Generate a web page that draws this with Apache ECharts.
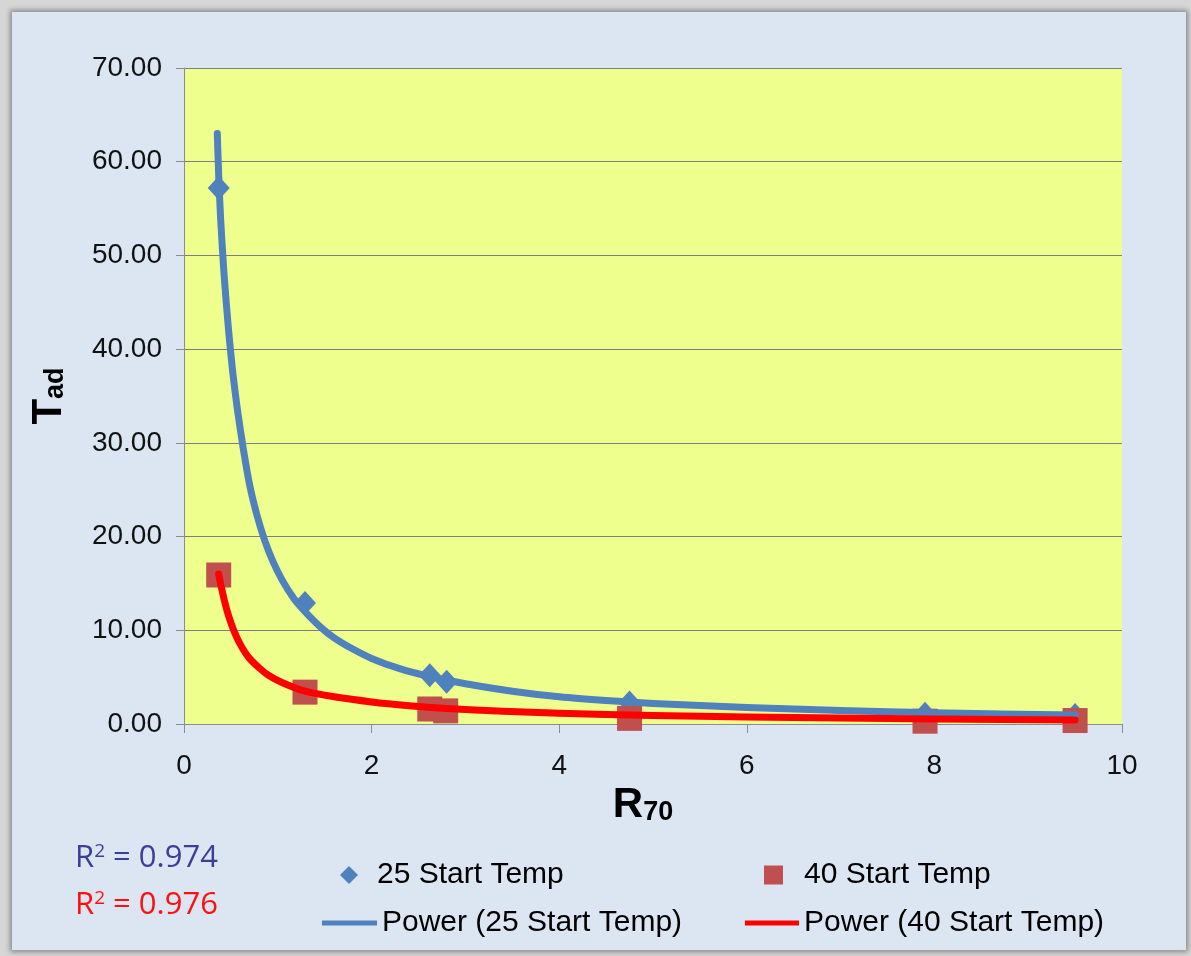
<!DOCTYPE html>
<html>
<head>
<meta charset="utf-8">
<script src="https://cdn.jsdelivr.net/npm/echarts@6/dist/echarts.min.js"></script>
<style>
  html, body { margin: 0; padding: 0; background: #d6d6d6; }
  #frame {
    position: absolute; left: 12px; top: 12px; width: 1174px; height: 938px;
    background: #dce6f2; box-shadow: 0 0 5px 2px #8a8a8a;
  }
  #chart { position: absolute; left: 0; top: 0; width: 1191px; height: 956px; }
</style>
</head>
<body>
<div id="frame"></div>
<div id="chart"></div>
<script>
// 数据
const x25 = [0.37, 1.29, 2.62, 2.80, 4.75, 7.90, 9.50];
const y25 = [57.2, 12.9, 5.2, 4.5, 2.3, 1.1, 0.95];
const x40 = [0.37, 1.29, 2.62, 2.79, 4.75, 7.90, 9.50];
const y40 = [15.9, 3.4, 1.6, 1.4, 0.6, 0.3, 0.37];

// 趋势线（幂函数拟合，按图读点）
const fit25x = [0.355, 0.37, 0.39, 0.42, 0.45, 0.48, 0.52, 0.57, 0.63, 0.7, 0.78, 0.86, 0.95, 1.05, 1.17, 1.29, 1.45, 1.6, 1.8, 2, 2.3, 2.6, 3, 3.5, 4, 4.5, 5, 6, 7, 8, 9.5];
const fit25y = [63, 58.5, 54, 49, 45, 41.5, 37.5, 33.5, 29.5, 25.5, 22.2, 19.6, 17.3, 15.3, 13.4, 12.0, 10.4, 9.2, 8.0, 7.0, 5.9, 5.1, 4.3, 3.5, 2.9, 2.5, 2.2, 1.75, 1.45, 1.2, 0.95];
const fit40x = [0.37, 0.4, 0.44, 0.48, 0.53, 0.6, 0.69, 0.8, 0.9, 1.05, 1.29, 1.6, 2, 2.4, 2.8, 3.4, 4, 5, 6, 7, 8, 9.5];
const fit40y = [16, 14.5, 12.8, 11.4, 10, 8.5, 7.1, 6.0, 5.2, 4.4, 3.5, 2.9, 2.35, 1.95, 1.65, 1.35, 1.15, 0.9, 0.75, 0.63, 0.53, 0.43];

const names = ["25 Start Temp", "40 Start Temp", "Power (25 Start Temp)", "Power (40 Start Temp)"];
const r2Text = ["0.974", "0.976"];

const zip = (a, b) => a.map((v, i) => [v, b[i]]);

const chart = echarts.init(document.getElementById("chart"));

const legendText = { fontFamily: "Arial, Liberation Sans", fontSize: 30, color: "#000" };

const option = {
    animation: false,
    backgroundColor: "transparent",
    grid: { left: 184, right: 69, top: 68, bottom: 232, show: true, backgroundColor: "#eeff8e", borderWidth: 0 },
    xAxis: {
        type: "value", min: 0, max: 10, interval: 2,
        axisLine: { show: true, lineStyle: { color: "#8c8c8c", width: 1 } },
        axisTick: { show: true, length: 9, lineStyle: { color: "#8c8c8c" } },
        splitLine: { show: false },
        axisLabel: { fontFamily: "Arial, Liberation Sans", fontSize: 28, color: "#111", margin: 28 },
        name: "{r|R}{s|70}",
        nameLocation: "middle",
        nameGap: 56,
        nameTextStyle: {
            padding: [0, 20, 0, 0],
            rich: {
                r: { fontFamily: "Arial, Liberation Sans", fontWeight: "bold", fontSize: 42, color: "#000" },
                s: { fontFamily: "Arial, Liberation Sans", fontWeight: "bold", fontSize: 27, color: "#000", padding: [14, 0, 0, 0] }
            }
        }
    },
    yAxis: {
        type: "value", min: 0, max: 70, interval: 10,
        axisLine: { show: true, lineStyle: { color: "#8c8c8c", width: 1 } },
        axisTick: { show: true, length: 8, lineStyle: { color: "#8c8c8c" } },
        splitLine: { show: true, lineStyle: { color: "#7f7f7f", width: 1 } },
        axisLabel: {
            fontFamily: "Arial, Liberation Sans", fontSize: 28, color: "#111", margin: 22,
            formatter: v => v.toFixed(2)
        },
        name: "{r|T}{s|ad}",
        nameLocation: "middle",
        nameRotate: 90,
        nameGap: 114,
        nameTextStyle: {
            rich: {
                r: { fontFamily: "Arial, Liberation Sans", fontWeight: "bold", fontSize: 42, color: "#000" },
                s: { fontFamily: "Arial, Liberation Sans", fontWeight: "bold", fontSize: 27, color: "#000", padding: [14, 0, 0, 0] }
            }
        }
    },
    legend: [
        { data: [{ name: names[0], icon: "diamond" }], left: 335, top: 855, itemWidth: 18, itemHeight: 18,
          textStyle: Object.assign({ padding: [0, 0, 0, 14] }, legendText), selectedMode: false },
        { data: [{ name: names[1], icon: "rect" }], left: 759, top: 855, itemWidth: 19, itemHeight: 19,
          textStyle: Object.assign({ padding: [0, 0, 0, 16] }, legendText), selectedMode: false },
        { data: [{ name: names[2], icon: "rect" }], left: 317, top: 903, itemWidth: 55, itemHeight: 5,
          textStyle: legendText, selectedMode: false },
        { data: [{ name: names[3], icon: "rect" }], left: 740, top: 903, itemWidth: 54, itemHeight: 5,
          textStyle: legendText, selectedMode: false }
    ],
    graphic: [
        { type: "text", left: 75, top: 842, style: {
            text: "{r|R}{s|2}{r| = " + r2Text[0] + "}",
            rich: {
                r: { fontFamily: "Open Sans, Noto Sans", fontSize: 31, fill: "#3d3d9a" },
                s: { fontFamily: "Open Sans, Noto Sans", fontSize: 19, fill: "#3d3d9a", padding: [0, 0, 14, 0] }
            } } },
        { type: "text", left: 75, top: 889, style: {
            text: "{r|R}{s|2}{r| = " + r2Text[1] + "}",
            rich: {
                r: { fontFamily: "Open Sans, Noto Sans", fontSize: 31, fill: "#ff1010" },
                s: { fontFamily: "Open Sans, Noto Sans", fontSize: 19, fill: "#ff1010", padding: [0, 0, 14, 0] }
            } } }
    ],
    series: [
        {
            name: names[0], type: "scatter", data: zip(x25, y25),
            symbol: "diamond", symbolSize: [22, 24], itemStyle: { color: "#4f81bd", opacity: 1 }, z: 2
        },
        {
            name: names[1], type: "scatter", data: zip(x40, y40),
            symbol: "rect", symbolSize: 25, itemStyle: { color: "#c0504d", opacity: 1 }, z: 3
        },
        {
            name: names[2], type: "line", data: zip(fit25x, fit25y),
            smooth: 0.2, showSymbol: false,
            lineStyle: { color: "#4f81bd", width: 7, cap: "round", join: "round" }, itemStyle: { color: "#4f81bd" }, z: 4
        },
        {
            name: names[3], type: "line", data: zip(fit40x, fit40y),
            smooth: 0.2, showSymbol: false,
            lineStyle: { color: "#ff0000", width: 7, cap: "round", join: "round" }, itemStyle: { color: "#ff0000" }, z: 5
        }
    ]
};

chart.setOption(option);
</script>
</body>
</html>
